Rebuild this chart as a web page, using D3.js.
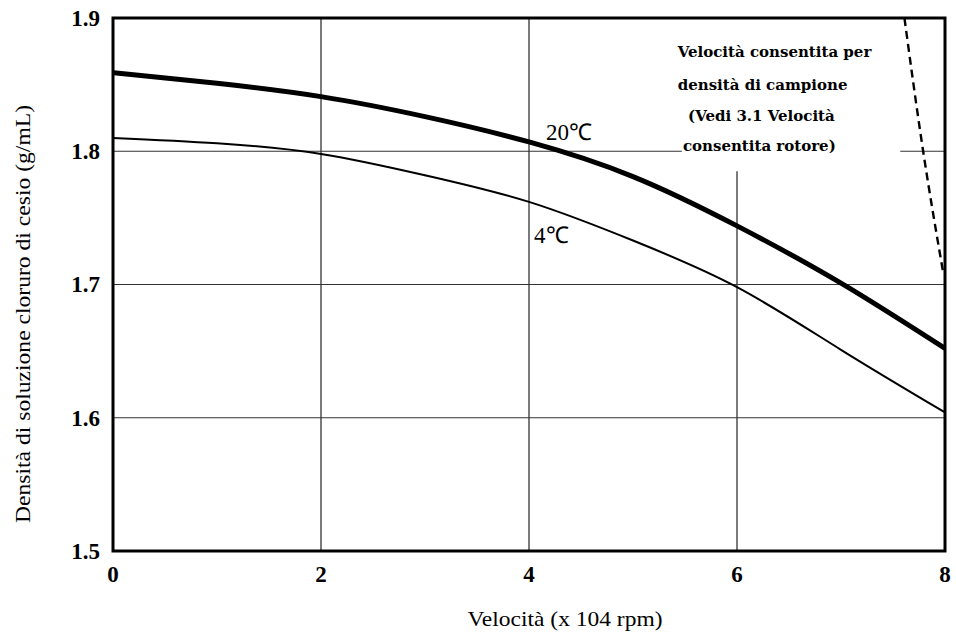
<!DOCTYPE html>
<html>
<head>
<meta charset="utf-8">
<script src="https://cdn.jsdelivr.net/npm/d3@7"></script>
<style>
  html, body { margin: 0; padding: 0; background: #fff; }
  svg { display: block; }
</style>
</head>
<body>
<svg id="chart" width="956" height="639"></svg>
<script>
// Densità CsCl vs velocità rotore — due curve (20℃ spessa, 4℃ sottile) + limite tratteggiato.

const SPEED = [0, 1, 2, 3, 4, 5, 6, 7, 8];
const DENS_20C = [1.859, 1.851, 1.841, 1.826, 1.807, 1.781, 1.744, 1.701, 1.652];
const DENS_4C = [1.810, 1.806, 1.798, 1.782, 1.762, 1.733, 1.698, 1.651, 1.604];

// limite "velocità consentita" (tratteggiato)
const LIMIT_SPEED = [7.61, 7.79, 7.98];
const LIMIT_DENS = [1.9, 1.8, 1.71];

const X_TICKS = [0, 2, 4, 6, 8];
const Y_TICKS = [1.5, 1.6, 1.7, 1.8, 1.9];

// segmenti di griglia interrotti dall'annotazione (unità dati)
const V_GRID = [
  { x: 2, y0: 1.5, y1: 1.9 },
  { x: 4, y0: 1.5, y1: 1.9 },
  { x: 6, y0: 1.5, y1: 1.785 },
];
const H_GRID = [
  { y: 1.8, x0: 0, x1: 5.47 },
  { y: 1.8, x0: 7.57, x1: 8 },
  { y: 1.7, x0: 0, x1: 8 },
  { y: 1.6, x0: 0, x1: 8 },
];

const NOTE_LINES = [
  { text: "Velocità consentita per", sx: 5.43, dy: 1.871 },
  { text: "densità di campione", sx: 5.43, dy: 1.846 },
  { text: "(Vedi 3.1 Velocità", sx: 5.53, dy: 1.823 },
  { text: "consentita rotore)", sx: 5.48, dy: 1.8 },
];

const svg = d3.select("#chart");
const x = d3.scaleLinear().domain([0, 8]).range([113, 945]);
const y = d3.scaleLinear().domain([1.5, 1.9]).range([551, 18]);

const serif = "'Liberation Serif', 'Times New Roman', serif";

// griglia
svg.append("g").selectAll("line").data(V_GRID).join("line")
  .attr("x1", (d) => x(d.x)).attr("x2", (d) => x(d.x))
  .attr("y1", (d) => y(d.y0)).attr("y2", (d) => y(d.y1))
  .attr("stroke", "#222").attr("stroke-width", 1.2);
svg.append("g").selectAll("line").data(H_GRID).join("line")
  .attr("x1", (d) => x(d.x0)).attr("x2", (d) => x(d.x1))
  .attr("y1", (d) => y(d.y)).attr("y2", (d) => y(d.y))
  .attr("stroke", "#333").attr("stroke-width", 1.2);

// curve
const line = d3.line().x((d) => x(d[0])).y((d) => y(d[1])).curve(d3.curveNatural);
svg.append("path").datum(SPEED.map((s, i) => [s, DENS_4C[i]]))
  .attr("fill", "none").attr("stroke", "#000").attr("stroke-width", 2)
  .attr("d", line);
svg.append("path").datum(SPEED.map((s, i) => [s, DENS_20C[i]]))
  .attr("fill", "none").attr("stroke", "#000").attr("stroke-width", 5)
  .attr("d", line);

svg.append("path").datum(LIMIT_SPEED.map((s, i) => [s, LIMIT_DENS[i]]))
  .attr("fill", "none").attr("stroke", "#000").attr("stroke-width", 2.4)
  .attr("stroke-dasharray", "8,5")
  .attr("d", line);

// cornice
svg.append("rect")
  .attr("x", x(0)).attr("y", y(1.9))
  .attr("width", x(8) - x(0)).attr("height", y(1.5) - y(1.9))
  .attr("fill", "none").attr("stroke", "#000").attr("stroke-width", 3);

// etichette assi
svg.append("g").selectAll("text").data(Y_TICKS).join("text")
  .attr("x", x(0) - 13).attr("y", (d) => y(d)).attr("dy", "0.34em")
  .attr("text-anchor", "end")
  .style("font-family", serif).style("font-weight", "bold").style("font-size", "23px")
  .text((d) => d3.format(".1f")(d));
svg.append("g").selectAll("text").data(X_TICKS).join("text")
  .attr("x", (d) => x(d)).attr("y", 582)
  .attr("text-anchor", "middle")
  .style("font-family", serif).style("font-weight", "bold").style("font-size", "23px")
  .text((d) => d);

svg.append("text")
  .attr("x", 565).attr("y", 626).attr("text-anchor", "middle")
  .attr("textLength", 195).attr("lengthAdjust", "spacingAndGlyphs")
  .style("font-family", serif).style("font-size", "22px")
  .text("Velocità (x 104 rpm)");
svg.append("text")
  .attr("transform", "translate(30,314) rotate(-90)")
  .attr("text-anchor", "middle")
  .attr("textLength", 418).attr("lengthAdjust", "spacingAndGlyphs")
  .style("font-family", serif).style("font-size", "22px")
  .text("Densità di soluzione cloruro di cesio (g/mL)");

// etichette curve
svg.append("text").attr("x", 546).attr("y", 140)
  .style("font-family", serif).style("font-size", "23px")
  .text("20℃");
svg.append("text").attr("x", 534).attr("y", 243)
  .style("font-family", serif).style("font-size", "23px")
  .text("4℃");

// annotazione
svg.append("g").selectAll("text").data(NOTE_LINES).join("text")
  .attr("x", (d) => x(d.sx)).attr("y", (d) => y(d.dy))
  .style("font-family", "'DejaVu Serif', serif").style("font-size", "15px")
  .style("font-weight", "bold")
  .text((d) => d.text);
</script>
</body>
</html>
